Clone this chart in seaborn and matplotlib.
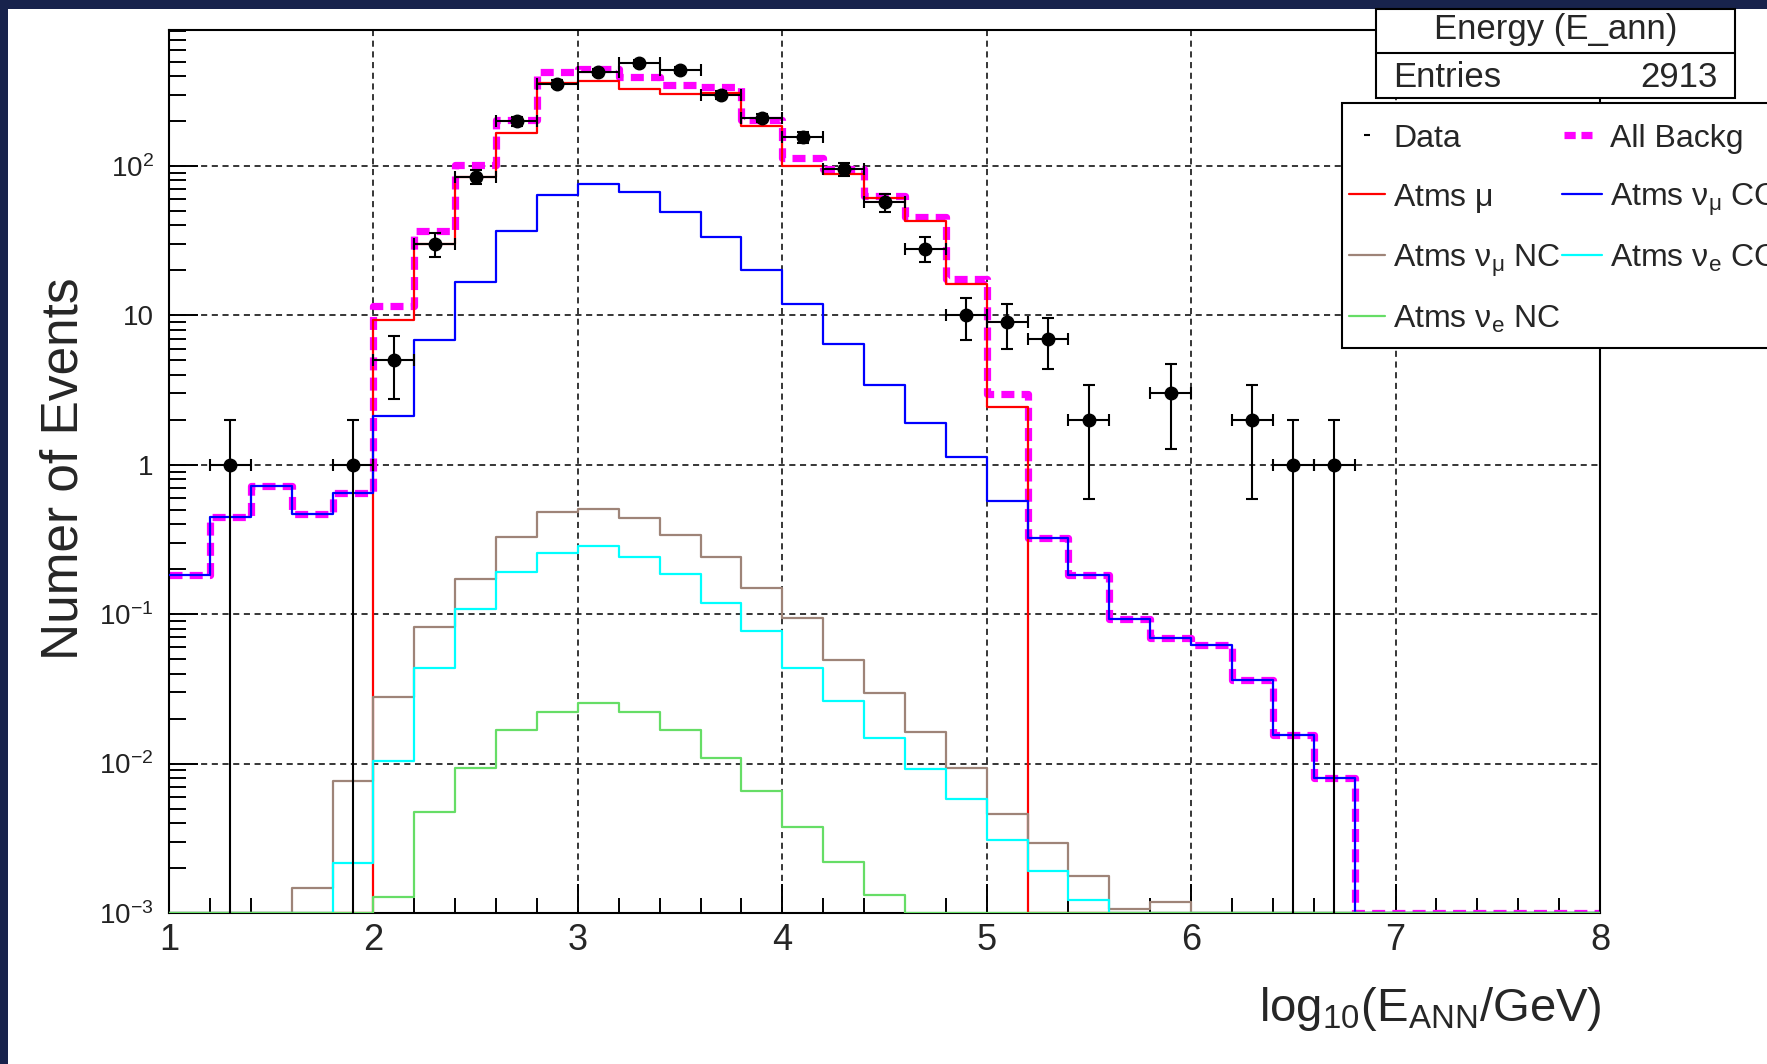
import numpy as np
import matplotlib
matplotlib.use("Agg")
import matplotlib.pyplot as plt
import seaborn as sns
from matplotlib.lines import Line2D
from matplotlib.patches import Rectangle
from matplotlib.ticker import FuncFormatter, LogLocator, MultipleLocator, NullFormatter

# --- data ----------------------------------------------------------------
# 35 bins of 0.2 in log10(E/GeV), from 1.0 to 8.0
bin_edges = [1.0, 1.2, 1.4, 1.6, 1.8, 2.0, 2.2, 2.4, 2.6, 2.8, 3.0, 3.2, 3.4,
             3.6, 3.8, 4.0, 4.2, 4.4, 4.6, 4.8, 5.0, 5.2, 5.4, 5.6, 5.8, 6.0,
             6.2, 6.4, 6.6, 6.8, 7.0, 7.2, 7.4, 7.6, 7.8, 8.0]

atms_mu = [0, 0, 0, 0, 0,
           9.3, 30, 84.5, 165, 360, 373, 325, 301, 309, 186, 100, 89, 61, 43,
           16.2, 2.43,
           0, 0, 0, 0, 0, 0, 0, 0, 0, 0, 0, 0, 0, 0]
atms_numu_cc = [0.183, 0.45, 0.72, 0.47, 0.65,
                2.13, 6.8, 16.8, 36.6, 64, 75.7, 67.3, 49.4, 33.5, 20.2, 11.9,
                6.4, 3.4, 1.9, 1.12, 0.57,
                0.325, 0.183, 0.0935, 0.0697, 0.0625, 0.0363, 0.0156, 0.00805,
                0, 0, 0, 0, 0, 0]
atms_numu_nc = [0, 0, 0, 0.00148, 0.0076,
                0.0277, 0.0818, 0.172, 0.328, 0.481, 0.506, 0.438, 0.340,
                0.242, 0.149, 0.0945, 0.049, 0.0296, 0.0162, 0.0094, 0.00461,
                0.00294, 0.00177, 0.00106, 0.00119,
                0, 0, 0, 0, 0, 0, 0, 0, 0, 0]
atms_nue_cc = [0, 0, 0, 0, 0.00217,
               0.0104, 0.0436, 0.109, 0.192, 0.256, 0.287, 0.240, 0.186,
               0.118, 0.0773, 0.0436, 0.0263, 0.0148, 0.00916, 0.00582, 0.0031,
               0.00192, 0.00122,
               0, 0, 0, 0, 0, 0, 0, 0, 0, 0, 0, 0]
atms_nue_nc = [0, 0, 0, 0, 0,
               0.00127, 0.00475, 0.0094, 0.0167, 0.0221, 0.0256, 0.0221,
               0.0167, 0.0109, 0.00652, 0.00379, 0.00221, 0.00132,
               0, 0, 0, 0, 0, 0, 0, 0, 0, 0, 0, 0, 0, 0, 0, 0, 0]
all_backg = [0.183, 0.45, 0.72, 0.47, 0.65,
             11.5, 36.9, 101, 204, 424, 446, 393, 351, 337, 204, 113, 96, 63,
             45.5, 17.4, 2.98,
             0.325, 0.183, 0.0935, 0.0697, 0.0625, 0.0363, 0.0156, 0.00805,
             0, 0, 0, 0, 0, 0]

data_x = [1.3, 1.9, 2.1, 2.3, 2.5, 2.7, 2.9, 3.1, 3.3, 3.5, 3.7, 3.9, 4.1,
          4.3, 4.5, 4.7, 4.9, 5.1, 5.3, 5.5, 5.9, 6.3, 6.5, 6.7]
data_n = [1, 1, 5, 30, 85, 200, 355, 425, 490, 440, 300, 210, 156,
          95, 57, 28, 10, 9, 7, 2, 3, 2, 1, 1]

n_entries = 2913
Y_MIN, Y_MAX = 1e-3, 813

C_MU, C_NUMU_CC, C_NUMU_NC = "#ff0000", "#0000ff", "#9e8478"
C_NUE_CC, C_NUE_NC, C_ALL = "#00ffff", "#66dd66", "#ff00ff"
ALL_DASH = (0, (1.8, 1.0))

# --- style ---------------------------------------------------------------
sns.set_style("ticks")
plt.rcParams["font.family"] = ["Liberation Sans", "DejaVu Sans"]
plt.rcParams["mathtext.fontset"] = "custom"
plt.rcParams["mathtext.rm"] = "Liberation Sans"
plt.rcParams["mathtext.it"] = "Liberation Sans:italic"
plt.rcParams["mathtext.bf"] = "Liberation Sans:bold"

W, H = 1767, 1064
fig = plt.figure(figsize=(W / 100, H / 100), dpi=100)
fig.patch.set_facecolor("#18234c")
fig.add_artist(Rectangle((8 / W, 0), 1, 1 - 9 / H, transform=fig.transFigure,
                         facecolor="white", edgecolor="none", zorder=-1))


def fx(px):
    return px / W


def fy(py):
    return 1 - py / H


ax = fig.add_axes([fx(169), fy(913), (1600 - 169) / W, (913 - 30) / H])
ax.set_facecolor("white")

centers = [(a + b) / 2 for a, b in zip(bin_edges[:-1], bin_edges[1:])]


def draw_hist(values, color, lw=1.6, ls="-", z=2):
    # zero bins sit on the axis floor, as ROOT draws them on a log scale
    w = np.clip(np.asarray(values, dtype=float), Y_MIN, None)
    sns.histplot(x=centers, weights=w, bins=bin_edges, element="step",
                 fill=False, color=color, linewidth=lw, linestyle=ls,
                 ax=ax, zorder=z)


draw_hist(all_backg, C_ALL, lw=5.2, ls=ALL_DASH, z=2)
draw_hist(atms_mu, C_MU, z=3)
draw_hist(atms_numu_cc, C_NUMU_CC, z=3)
draw_hist(atms_numu_nc, C_NUMU_NC, z=3)
draw_hist(atms_nue_cc, C_NUE_CC, z=3)
draw_hist(atms_nue_nc, C_NUE_NC, z=3)

ax.errorbar(data_x, data_n, xerr=0.1, yerr=np.sqrt(data_n), fmt="o",
            color="black", ms=9, elinewidth=1.5, capsize=4, capthick=1.5,
            zorder=6)

ax.set_yscale("log")
ax.set_xlim(1, 8)
ax.set_ylim(Y_MIN, Y_MAX)
ax.set_xlabel("")
ax.set_ylabel("")

# axes, ticks, grid
ax.set_axisbelow(True)
ax.grid(True, which="major", color="black", linestyle=(0, (4, 3)), linewidth=1.1)
ax.xaxis.set_major_locator(MultipleLocator(1))
ax.xaxis.set_minor_locator(MultipleLocator(0.2))
ax.yaxis.set_major_locator(LogLocator(base=10, numticks=20))
ax.yaxis.set_minor_locator(LogLocator(base=10, subs=np.arange(2, 10), numticks=20))
ax.yaxis.set_minor_formatter(NullFormatter())


def ylab(v, _pos):
    e = int(round(np.log10(v)))
    if e == 0:
        return "1"
    if e == 1:
        return "10"
    return r"$\mathregular{10^{%d}}$" % e


ax.yaxis.set_major_formatter(FuncFormatter(ylab))
ax.tick_params(which="both", direction="in", top=False, right=False, width=1.4,
               color="black")
ax.tick_params(axis="x", which="major", length=21, pad=7, labelsize=26)
ax.tick_params(axis="x", which="minor", length=11)
ax.tick_params(axis="y", which="major", length=21, pad=11, labelsize=20,
               labelcolor="#222222")
ax.tick_params(axis="y", which="minor", length=12)
for sp in ax.spines.values():
    sp.set_color("black")
    sp.set_linewidth(1.5)

fig.text(fx(64), fy(469), "Numer of Events", rotation=90, ha="center",
         va="center", fontsize=37)
fig.text(fx(1602), fy(1021), r"$\mathregular{log_{10}(E_{ANN}/GeV)}$",
         ha="right", va="baseline", fontsize=34)

# --- stats box -----------------------------------------------------------
bx0, bx1, by0, by1, bymid = 1376, 1735, 9, 98, 53
fig.add_artist(Rectangle((fx(bx0), fy(by1)), (bx1 - bx0) / W, (by1 - by0) / H,
                         transform=fig.transFigure, facecolor="white",
                         edgecolor="black", linewidth=1.5, zorder=10))
fig.add_artist(Line2D([fx(bx0), fx(bx1)], [fy(bymid), fy(bymid)],
                      transform=fig.transFigure, color="black", linewidth=1.5,
                      zorder=11))
fig.text(fx((bx0 + bx1) / 2), fy(29), "Energy (E_ann)", ha="center",
         va="center", fontsize=25, zorder=12)
fig.text(fx(1393), fy(77), "Entries", ha="left", va="center", fontsize=25,
         zorder=12)
fig.text(fx(1718), fy(77), f"{n_entries}", ha="right", va="center",
         fontsize=25, zorder=12)

# --- legend (laid out by hand, ROOT TLegend style) -----------------------
fig.add_artist(Rectangle((fx(1342), fy(348)), 1, (348 - 103) / H,
                         transform=fig.transFigure, facecolor="white",
                         edgecolor="black", linewidth=1.5, zorder=10))
row_base = [147, 206, 267, 328]
col_handle = [(1349, 1385), (1562, 1602)]
col_text = [1393, 1610]
entries = [
    (0, 0, "Data", dict(color="black", marker="_", ms=5, mew=1.5, ls="none")),
    (0, 1, "All Backg", dict(color=C_ALL, lw=5.2, ls=(0, (1.55, 0.8)))),
    (1, 0, r"Atms $\mathregular{\mu}$", dict(color=C_MU, lw=1.6)),
    (1, 1, r"Atms $\mathregular{\nu_{\mu}}$ CC", dict(color=C_NUMU_CC, lw=1.6)),
    (2, 0, r"Atms $\mathregular{\nu_{\mu}}$ NC", dict(color=C_NUMU_NC, lw=1.6)),
    (2, 1, r"Atms $\mathregular{\nu_{e}}$ CC", dict(color=C_NUE_CC, lw=1.6)),
    (3, 0, r"Atms $\mathregular{\nu_{e}}$ NC", dict(color=C_NUE_NC, lw=1.6)),
]
for row, col, label, kw in entries:
    yc = row_base[row] - 12
    x0, x1 = col_handle[col]
    if kw.get("marker"):
        xs = [fx((x0 + x1) / 2)]
        ys = [fy(yc)]
    elif label == "All Backg":
        # two short thick dashes, as in the ROOT legend
        xs = [fx(x0 + 2), fx(x0 + 30)]
        ys = [fy(yc), fy(yc)]
    else:
        xs = [fx(x0), fx(x1)]
        ys = [fy(yc), fy(yc)]
    fig.add_artist(Line2D(xs, ys, transform=fig.transFigure, zorder=11, **kw))
    fig.text(fx(col_text[col]), fy(row_base[row]), label, ha="left",
             va="baseline", fontsize=23, zorder=12)

fig.savefig("out.png", dpi=100, facecolor=fig.get_facecolor())
